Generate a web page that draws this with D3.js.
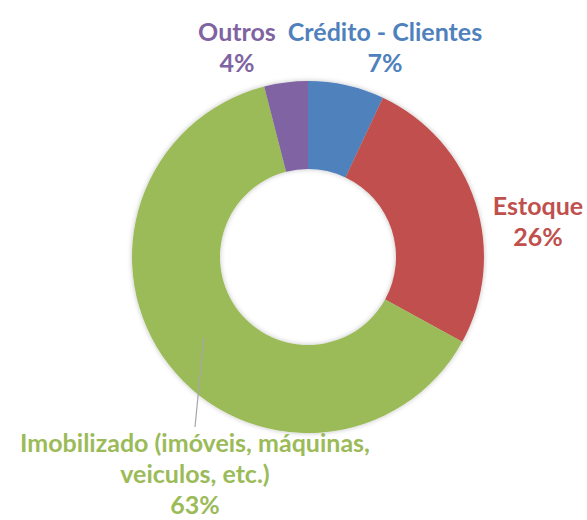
<!DOCTYPE html>
<html>
<head>
<meta charset="utf-8">
<script src="https://cdn.jsdelivr.net/npm/d3@7"></script>
<style>
  body { margin: 0; background: #fff; }
  svg { display: block; }
  text { font-family: Lato, "Open Sans", sans-serif; font-weight: bold; }
</style>
</head>
<body>
<div id="chart"></div>
<script>
// dados do grafico
var categorias = ['Crédito - Clientes', 'Estoque', 'Imobilizado', 'Outros'];
var valores = [7, 26, 63, 4];
var rotulos = [
  ['Crédito - Clientes', '7%'],
  ['Estoque', '26%'],
  ['Imobilizado (imóveis, máquinas,', 'veiculos, etc.)', '63%'],
  ['Outros', '4%']
];
var cores = ['#4F81BD', '#C0504D', '#9BBB59', '#8064A2'];

var W = 587, H = 520;
var CX = 308, CY = 257;
var R_EXT = 176, R_INT = 88;
var LINHA = 31;

// posicao de cada rotulo (centro x, baseline da 1a linha)
var posRotulo = {
  'Crédito - Clientes': { x: 385, y: 41 },
  'Estoque': { x: 538, y: 215 },
  'Imobilizado': { x: 195, y: 452 },
  'Outros': { x: 237, y: 41 }
};

var svg = d3.select('#chart').append('svg')
  .attr('width', W)
  .attr('height', H);

var defs = svg.append('defs');
var sombra = defs.append('filter').attr('id', 'sombra')
  .attr('x', '-10%').attr('y', '-10%').attr('width', '120%').attr('height', '120%');
sombra.append('feDropShadow')
  .attr('dx', 0).attr('dy', 0)
  .attr('stdDeviation', 2.5)
  .attr('flood-color', '#000')
  .attr('flood-opacity', 0.25);

var dados = categorias.map(function(c, i){
  return { nome: c, valor: valores[i], cor: cores[i], linhas: rotulos[i] };
});

var pie = d3.pie()
  .sort(null)
  .value(function(d){ return d.valor; });

var arco = d3.arc()
  .innerRadius(R_INT)
  .outerRadius(R_EXT);

var g = svg.append('g')
  .attr('transform', 'translate(' + CX + ',' + CY + ')');

var fatias = pie(dados);

g.append('g')
  .attr('filter', 'url(#sombra)')
  .selectAll('path').data(fatias).enter().append('path')
    .attr('d', arco)
    .attr('fill', function(d){ return d.data.cor; });

// linha de chamada do Imobilizado
var imob = fatias[2];
var c = arco.centroid(imob);
g.append('line')
  .attr('x1', c[0])
  .attr('y1', c[1])
  .attr('x2', 195 - CX)
  .attr('y2', 427 - CY)
  .attr('stroke', '#a6a6a6')
  .attr('stroke-width', 1.2);

// rotulos
svg.append('g').selectAll('text').data(dados).enter().append('text')
  .each(function(d){
    var t = d3.select(this);
    var p = posRotulo[d.nome];
    t.attr('fill', d.cor)
      .attr('font-size', 25)
      .attr('text-anchor', 'middle');
    d.linhas.forEach(function(l, i){
      t.append('tspan')
        .attr('x', p.x)
        .attr('y', p.y + i * LINHA)
        .text(l);
    });
  });
</script>
</body>
</html>
